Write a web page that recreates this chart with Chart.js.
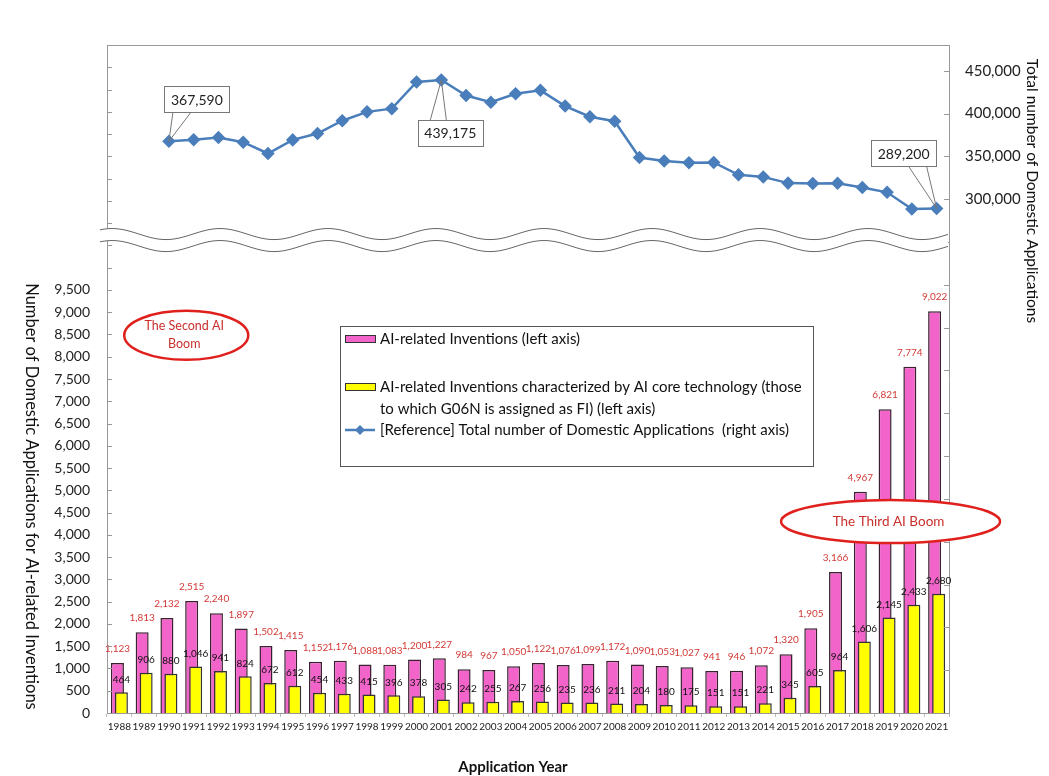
<!DOCTYPE html>
<html>
<head>
<meta charset="utf-8">
<script src="https://cdn.jsdelivr.net/npm/chart.js@4.4.0/dist/chart.umd.min.js"></script>
<style>
  html, body { margin: 0; padding: 0; background: #fff; }
</style>
</head>
<body>
<canvas id="aiChart" width="1049" height="776"></canvas>
<script>
const years = ['1988', '1989', '1990', '1991', '1992', '1993', '1994', '1995', '1996', '1997',
  '1998', '1999', '2000', '2001', '2002', '2003', '2004', '2005', '2006', '2007', '2008', '2009',
  '2010', '2011', '2012', '2013', '2014', '2015', '2016', '2017', '2018', '2019', '2020', '2021'];

const aiRelated = [1123, 1813, 2132, 2515, 2240, 1897, 1502, 1415, 1152, 1176, 1088, 1083, 1200,
  1227, 984, 967, 1050, 1122, 1076, 1099, 1172, 1090, 1053, 1027, 941, 946, 1072, 1320, 1905,
  3166, 4967, 6821, 7774, 9022];

const aiCore = [464, 906, 880, 1046, 941, 824, 672, 612, 454, 433, 415, 396, 378, 305, 242, 255,
  267, 256, 235, 236, 211, 204, 180, 175, 151, 151, 221, 345, 605, 964, 1606, 2145, 2433, 2680];

const totalApplications = [null, null, 367590, 369396, 371894, 366486, 353301, 369215, 376615,
  391572, 401932, 405655, 436865, 439175, 421044, 413092, 423081, 427078, 408674, 396291, 391002,
  348596, 344598, 342610, 342796, 328436, 325989, 318721, 318381, 318479, 313567, 307969, 288472,
  289200];

const seriesLabels = [
  'AI-related Inventions (left axis)',
  'AI-related Inventions characterized by AI core technology (those to which G06N is assigned as FI) (left axis)',
  '[Reference] Total number of Domestic Applications  (right axis)'
];

// years whose total gets a callout box
const calloutYears = ['1990', '2001', '2021'];

const FONT = 'Lato, "Noto Sans", sans-serif';
const fmt = v => v.toLocaleString('en-US');
const PINK = '#f264c9';
const YELLOW = '#ffff00';
const BLUE = '#4a7ebb';
const RED = '#e0201c';

// yellow bars sit on the right of the pink ones but must be painted over them
const yellowOnTop = {
  id: 'yellowOnTop',
  beforeDatasetDraw(chart, args) {
    if (args.index === 1) return false;
  },
  afterDatasetDraw(chart, args) {
    if (args.index === 0) chart.getDatasetMeta(1).controller.draw();
  }
};

function line(ctx, x1, y1, x2, y2) {
  ctx.beginPath();
  ctx.moveTo(x1, y1);
  ctx.lineTo(x2, y2);
  ctx.stroke();
}

function everyStep(from, to, step) {
  const out = [];
  for (let v = from; v <= to; v += step) out.push({ value: v });
  return out;
}

const decorations = {
  id: 'decorations',
  afterDraw(chart) {
    const ctx = chart.ctx;
    const {left, right, top} = chart.chartArea;
    const yL = chart.scales.y, yR = chart.scales.y1, xs = chart.scales.x;

    ctx.save();
    // frame top edge
    ctx.strokeStyle = '#999';
    ctx.lineWidth = 1;
    line(ctx, left, Math.round(top) + 0.5, right, Math.round(top) + 0.5);

    // inward tick marks on both value axes
    yL.ticks.forEach(t => {
      const py = Math.round(yL.getPixelForValue(t.value)) + 0.5;
      line(ctx, left, py, left + 5, py);
    });
    yR.ticks.forEach(t => {
      const py = Math.round(yR.getPixelForValue(t.value)) + 0.5;
      line(ctx, right - 5, py, right, py);
    });

    // axis break: white band between two waves
    const brk = {at: 10620, gap: 12, amp: 5.5, period: 108, phase: 112};
    const cy = yL.getPixelForValue(brk.at);
    const wave = (c, x) => c - brk.amp * Math.cos(2 * Math.PI * (x - brk.phase) / brk.period);
    const x0 = left - 7, x1 = right - 1;
    ctx.beginPath();
    for (let x = x0; x <= x1; x++) ctx.lineTo(x, wave(cy - brk.gap / 2, x));
    for (let x = x1; x >= x0; x--) ctx.lineTo(x, wave(cy + brk.gap / 2, x));
    ctx.closePath();
    ctx.fillStyle = '#fff';
    ctx.fill();
    ctx.strokeStyle = '#666';
    ctx.lineWidth = 1;
    [cy - brk.gap / 2, cy + brk.gap / 2].forEach(c => {
      ctx.beginPath();
      for (let x = x0; x <= x1; x++) ctx.lineTo(x, wave(c, x));
      ctx.stroke();
    });

    // callouts on the total applications line
    const lineMeta = chart.getDatasetMeta(2);
    const callouts = {
      '1990': {dx: 28, dy: -42, base: -15, half: 9},
      '2001': {dx: 9, dy: 53, base: -12, half: 8},
      '2021': {dx: -33, dy: -55, base: 14, half: 9}
    };
    ctx.font = '14px ' + FONT;
    ctx.textAlign = 'center';
    ctx.textBaseline = 'middle';
    calloutYears.forEach(yr => {
      const i = years.indexOf(yr);
      const pt = lineMeta.data[i];
      const c = callouts[yr];
      const w = 65, h = 26;
      const bx = pt.x + c.dx - w / 2, by = pt.y + c.dy - h / 2;
      const edge = c.dy < 0 ? by + h : by;
      ctx.strokeStyle = '#777';
      ctx.lineWidth = 1;
      line(ctx, pt.x, pt.y, bx + w / 2 + c.base - c.half, edge);
      line(ctx, pt.x, pt.y, bx + w / 2 + c.base + c.half, edge);
      ctx.fillStyle = '#fff';
      ctx.fillRect(bx, by, w, h);
      ctx.strokeRect(Math.round(bx) + 0.5, Math.round(by) + 0.5, w, h);
      ctx.fillStyle = '#222';
      ctx.fillText(fmt(totalApplications[i]), bx + w / 2, by + h / 2 + 1);
    });

    // boom annotations, placed by category index and left-axis value
    const step = xs.getPixelForValue(1) - xs.getPixelForValue(0);
    const booms = [
      {text: ['The Second AI', 'Boom'], idx: 2.7, val: 8480, rx: 62, ry: 24.5, size: 12.5},
      {text: ['The Third AI Boom'], idx: 31.14, val: 4300, rx: 109.5, ry: 21.5, size: 13.5}
    ];
    booms.forEach(b => {
      const ex = xs.getPixelForValue(0) + b.idx * step;
      const ey = yL.getPixelForValue(b.val);
      ctx.beginPath();
      ctx.ellipse(ex, ey, b.rx, b.ry, 0, 0, Math.PI * 2);
      ctx.fillStyle = '#fff';
      ctx.fill();
      ctx.strokeStyle = RED;
      ctx.lineWidth = 2.5;
      ctx.stroke();
      ctx.fillStyle = '#c8302c';
      ctx.font = b.size + 'px ' + FONT;
      b.text.forEach((t, k) => {
        ctx.fillText(t, ex - 2, ey + (k - (b.text.length - 1) / 2) * 18);
      });
    });

    // legend box
    const lg = {x: 340, y: 326, w: 473, h: 140, rows: [339, 387, 430], lead: 22, tx: 380, maxW: 436};
    ctx.fillStyle = '#fff';
    ctx.fillRect(lg.x, lg.y, lg.w, lg.h);
    ctx.strokeStyle = '#555';
    ctx.lineWidth = 1;
    ctx.strokeRect(lg.x + 0.5, lg.y + 0.5, lg.w, lg.h);
    ctx.font = '15px ' + FONT;
    ctx.textAlign = 'left';
    chart.data.datasets.forEach((ds, k) => {
      const ry = lg.rows[k];
      if (ds.type === 'line') {
        ctx.strokeStyle = ds.borderColor;
        ctx.lineWidth = 2.5;
        line(ctx, 345, ry, 375, ry);
        ctx.fillStyle = ds.borderColor;
        ctx.beginPath();
        ctx.moveTo(360, ry - 5); ctx.lineTo(365, ry); ctx.lineTo(360, ry + 5); ctx.lineTo(355, ry);
        ctx.closePath();
        ctx.fill();
      } else {
        ctx.fillStyle = ds.backgroundColor;
        ctx.fillRect(345, ry - 3.5, 30, 7);
        ctx.strokeStyle = '#333';
        ctx.lineWidth = 1;
        ctx.strokeRect(345.5, ry - 3.5, 30, 7);
      }
      // wrap long labels
      const words = ds.label.split(' ');
      const lines = [];
      let cur = '';
      words.forEach(wd => {
        const test = cur ? cur + ' ' + wd : wd;
        if (ctx.measureText(test).width > lg.maxW && cur) { lines.push(cur); cur = wd; }
        else cur = test;
      });
      lines.push(cur);
      ctx.fillStyle = '#111';
      lines.forEach((t, n) => ctx.fillText(t, lg.tx, ry + n * lg.lead));
    });

    // axis titles
    ctx.fillStyle = '#111';
    ctx.textAlign = 'center';
    ctx.font = '16.5px ' + FONT;
    ctx.save();
    ctx.translate(31, (yL.getPixelForValue(0) + yL.getPixelForValue(9500)) / 2 - 5);
    ctx.rotate(Math.PI / 2);
    ctx.fillText('Number of Domestic Applications for AI-related Inventions', 0, 0);
    ctx.restore();

    ctx.font = '15.5px ' + FONT;
    ctx.save();
    ctx.translate(1032, 191);
    ctx.rotate(Math.PI / 2);
    ctx.fillText('Total number of Domestic Applications', 0, 0);
    ctx.restore();

    ctx.font = 'bold 15px ' + FONT;
    ctx.fillText('Application Year', 513, 767);
    ctx.restore();
  }
};

// value labels above the bars
const barValues = {
  id: 'barValues',
  afterDatasetsDraw(chart) {
    const ctx = chart.ctx;
    ctx.save();
    ctx.font = '10px ' + FONT;
    ctx.textAlign = 'center';
    ctx.textBaseline = 'middle';
    chart.getDatasetMeta(0).data.forEach((bar, i) => {
      ctx.fillStyle = '#d23a36';
      ctx.fillText(fmt(aiRelated[i]), bar.x, bar.y - 14);
    });
    chart.getDatasetMeta(1).data.forEach((bar, i) => {
      ctx.fillStyle = '#111';
      ctx.fillText(fmt(aiCore[i]), bar.x, bar.y - 13);
    });
    ctx.restore();
  }
};

new Chart(document.getElementById('aiChart'), {
  type: 'bar',
  data: {
    labels: years,
    datasets: [
      {
        label: seriesLabels[0],
        data: aiRelated,
        yAxisID: 'y',
        backgroundColor: PINK,
        borderColor: '#3a2030',
        borderWidth: 1.5,
        categoryPercentage: 0.323,
        barPercentage: 3.25
      },
      {
        label: seriesLabels[1],
        data: aiCore,
        yAxisID: 'y',
        backgroundColor: YELLOW,
        borderColor: '#333',
        borderWidth: 1.5,
        categoryPercentage: 0.323,
        barPercentage: 3.25
      },
      {
        type: 'line',
        label: seriesLabels[2],
        data: totalApplications,
        yAxisID: 'y1',
        borderColor: BLUE,
        backgroundColor: BLUE,
        borderWidth: 2.5,
        pointStyle: 'rectRot',
        pointRadius: 5,
        pointBackgroundColor: BLUE,
        pointBorderColor: BLUE,
        tension: 0
      }
    ]
  },
  options: {
    responsive: false,
    animation: false,
    devicePixelRatio: 1,
    layout: { padding: { top: 45, left: 0, right: 0, bottom: 0 } },
    plugins: {
      legend: { display: false },
      tooltip: { enabled: false }
    },
    scales: {
      x: {
        afterFit: s => { s.height = 63; },
        grid: { drawOnChartArea: false, tickLength: 4, color: '#bbb' },
        border: { color: '#999' },
        ticks: {
          autoSkip: false,
          maxRotation: 0,
          padding: 4,
          color: '#222',
          font: { family: FONT, size: 10 }
        }
      },
      y: {
        position: 'left',
        min: 0,
        max: 15000,
        afterFit: s => { s.width = 107; },
        afterBuildTicks: s => { s.ticks = everyStep(0, 15000, 500); },
        grid: { display: false, drawTicks: false },
        border: { display: true, color: '#999' },
        ticks: {
          autoSkip: false,
          padding: 17,
          color: '#222',
          font: { family: FONT, size: 14 },
          callback: v => (v <= 9500 ? fmt(v) : '')
        }
      },
      y1: {
        position: 'right',
        min: -300000,
        max: 480000,
        afterFit: s => { s.width = 100; },
        afterBuildTicks: s => { s.ticks = everyStep(-300000, 450000, 50000); },
        grid: { display: false, drawTicks: false },
        border: { display: true, color: '#999' },
        ticks: {
          autoSkip: false,
          padding: 16,
          color: '#222',
          font: { family: FONT, size: 15 },
          callback: v => (v >= 300000 && v <= 450000 ? fmt(v) : '')
        }
      }
    }
  },
  plugins: [yellowOnTop, barValues, decorations]
});
</script>
</body>
</html>
